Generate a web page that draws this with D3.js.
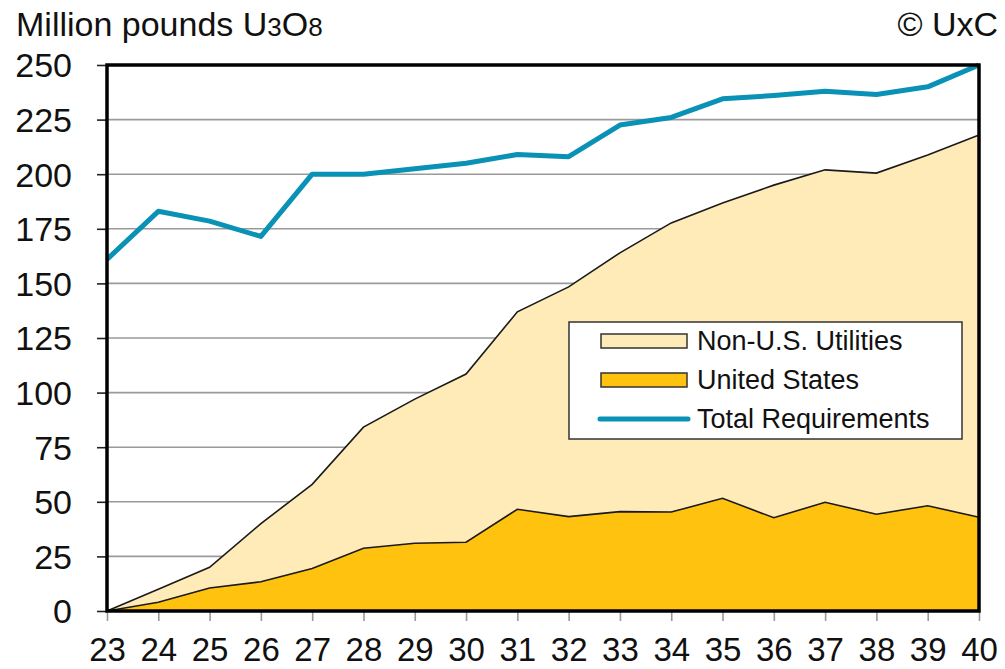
<!DOCTYPE html>
<html>
<head>
<meta charset="utf-8">
<script src="https://cdn.jsdelivr.net/npm/d3@7"></script>
<style>
  html, body { margin: 0; padding: 0; background: #fff; }
  svg { display: block; font-family: "Liberation Sans", Arial, sans-serif; }
</style>
</head>
<body>
<svg id="chart" width="1005" height="669"></svg>
<script>
// Uranium requirements, million pounds U3O8, years 2023-2040
const years = ["23","24","25","26","27","28","29","30","31","32","33","34","35","36","37","38","39","40"];
const unitedStates = [0, 4, 10.5, 13.4, 19.5, 28.7, 31, 31.5, 46.6, 43.2, 45.5, 45.3, 51.6, 42.7, 49.8, 44.3, 48.2, 42.9];
const nonUSUtilities = [0, 6, 9.5, 26.6, 38.5, 55.5, 66, 77, 90.4, 105.2, 118.5, 132.4, 135.2, 152.3, 152.2, 156.2, 160.6, 175.1];
const totalRequirements = [161, 183, 178.5, 171.5, 200, 200, 202.5, 205, 209, 208, 222.5, 226, 234.5, 236, 238, 236.5, 240, 250];
const yTicks = [0, 25, 50, 75, 100, 125, 150, 175, 200, 225, 250];

const colors = { us: "#FFC20E", nonUS: "#FFEBB7", total: "#0A91B6" };
const fontFamily = "'Liberation Sans', Arial, sans-serif";

const svg = d3.select("#chart");
const plotLeft = 107, plotRight = 979, plotTop = 65, plotBottom = 611;

const x = d3.scalePoint().domain(years).range([plotLeft, plotRight]);
const y = d3.scaleLinear().domain([0, 250]).range([plotBottom, plotTop]);

const rows = years.map((yr, i) => ({ yr, us: unitedStates[i], nonUS: nonUSUtilities[i], total: totalRequirements[i] }));
const stacked = d3.stack().keys(["us", "nonUS"])(rows);

// horizontal gridlines
svg.append("g")
  .selectAll("line")
  .data(yTicks.filter(t => t > 0 && t < 250))
  .join("line")
  .attr("x1", plotLeft).attr("x2", plotRight)
  .attr("y1", d => y(d)).attr("y2", d => y(d))
  .attr("stroke", "#9a9a9a").attr("stroke-width", 1.6);

// stacked areas
const area = d3.area()
  .x(d => x(d.data.yr))
  .y0(d => y(d[0]))
  .y1(d => y(d[1]));
const fillFor = { us: colors.us, nonUS: colors.nonUS };
svg.append("g")
  .selectAll("path")
  .data(stacked.slice().reverse())
  .join("path")
  .attr("d", area)
  .attr("fill", d => fillFor[d.key]);

// outlines on top edge of each layer
const edge = d3.line().x(d => x(d.data.yr)).y(d => y(d[1]));
svg.append("g")
  .selectAll("path")
  .data(stacked)
  .join("path")
  .attr("d", edge)
  .attr("fill", "none")
  .attr("stroke", "#1a1a1a")
  .attr("stroke-width", 1.6);

// total requirements line
const line = d3.line().x(d => x(d.yr)).y(d => y(d.total));
svg.append("path")
  .datum(rows)
  .attr("d", line)
  .attr("fill", "none")
  .attr("stroke", colors.total)
  .attr("stroke-width", 5)
  .attr("stroke-linejoin", "round");

// y axis
const yAxis = svg.append("g")
  .attr("transform", `translate(${plotLeft},0)`)
  .call(d3.axisLeft(y).tickValues(yTicks).tickSize(10).tickPadding(25));
yAxis.select(".domain").remove();
yAxis.selectAll(".tick line").attr("stroke", "#222").attr("stroke-width", 1.6);
yAxis.selectAll(".tick text")
  .attr("font-size", 34).attr("fill", "#111")
  .attr("font-family", fontFamily)
  .attr("dy", "0.35em");

// x axis
const xAxis = svg.append("g")
  .attr("transform", `translate(0,${plotBottom})`)
  .call(d3.axisBottom(x).tickSize(10).tickPadding(17));
xAxis.select(".domain").remove();
xAxis.selectAll(".tick line").attr("stroke", "#999").attr("stroke-width", 1.6);
xAxis.selectAll(".tick text")
  .attr("font-size", 33).attr("fill", "#111")
  .attr("font-family", fontFamily);

// plot frame
svg.append("rect")
  .attr("x", plotLeft).attr("y", plotTop)
  .attr("width", plotRight - plotLeft).attr("height", plotBottom - plotTop)
  .attr("fill", "none").attr("stroke", "#000").attr("stroke-width", 3.5);

// unit label
const unit = svg.append("text")
  .attr("x", 16).attr("y", 36)
  .attr("font-size", 34).attr("fill", "#111");
unit.append("tspan").text("Million pounds U");
unit.append("tspan").attr("font-size", 26).text("3");
unit.append("tspan").text("O");
unit.append("tspan").attr("font-size", 26).text("8");

svg.append("text")
  .attr("x", 998).attr("y", 36)
  .attr("text-anchor", "end")
  .attr("font-size", 34).attr("fill", "#111")
  .text("© UxC");

// legend
const lg = svg.append("g");
lg.append("rect")
  .attr("x", 569).attr("y", 322).attr("width", 393).attr("height", 117)
  .attr("fill", "#fff").attr("stroke", "#333").attr("stroke-width", 1.5);
const legendItems = [
  { label: "Non-U.S. Utilities", type: "box", color: colors.nonUS },
  { label: "United States", type: "box", color: colors.us },
  { label: "Total Requirements", type: "line", color: colors.total }
];
legendItems.forEach((it, i) => {
  const cy = 341 + i * 39;
  if (it.type === "box") {
    lg.append("rect")
      .attr("x", 601).attr("y", cy - 7).attr("width", 86).attr("height", 14)
      .attr("fill", it.color).attr("stroke", "#333").attr("stroke-width", 1.5);
  } else {
    lg.append("line")
      .attr("x1", 600).attr("x2", 688).attr("y1", cy).attr("y2", cy)
      .attr("stroke", it.color).attr("stroke-width", 5).attr("stroke-linecap", "round");
  }
  lg.append("text")
    .attr("x", 697).attr("y", cy).attr("dy", "0.35em")
    .attr("font-size", 27).attr("fill", "#111")
    .text(it.label);
});
</script>
</body>
</html>
